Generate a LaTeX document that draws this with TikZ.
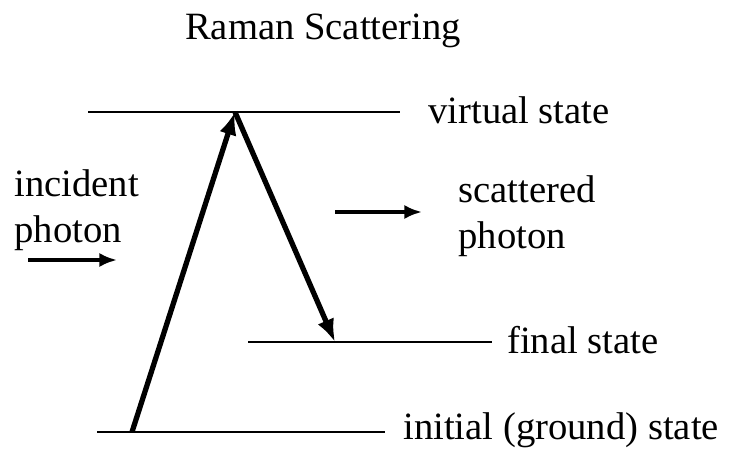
\documentclass[tikz,border=0pt]{standalone}
\usepackage{fontspec}
\setmainfont{Liberation Serif}
\usetikzlibrary{arrows.meta}

\begin{document}
\begin{tikzpicture}[x=0.02cm, y=0.02cm, font=\fontsize{22}{26}\selectfont]

  \useasboundingbox (0,0) rectangle (731,464);

  % Title
  \node[anchor=base] (title) at (323,424) {Raman Scattering};

  % Energy levels
  \coordinate (V1) at (88,352);
  \coordinate (V2) at (400,352);
  \coordinate (F1) at (248,122);
  \coordinate (F2) at (492,122);
  \coordinate (G1) at (97,32);
  \coordinate (G2) at (385,32);
  \draw[line width=1.1pt] (V1) -- (V2);
  \draw[line width=1.1pt] (F1) -- (F2);
  \draw[line width=1.1pt] (G1) -- (G2);

  % Transitions
  \coordinate (up0) at (132,32);
  \coordinate (top) at (235,352);
  \coordinate (down1) at (335,122);
  \draw[line width=3pt, -{Latex[length=13pt,width=10pt]}] (up0) -- (top);
  \draw[line width=3pt, -{Latex[length=13pt,width=10pt]}] (top) -- (down1);

  % Photons
  \coordinate (i1) at (28,204);
  \coordinate (i2) at (117,204);
  \coordinate (s1) at (335,252);
  \coordinate (s2) at (422,252);
  \draw[line width=2.2pt, -{Latex[length=10pt,width=8pt]}] (i1) -- (i2);
  \draw[line width=2.2pt, -{Latex[length=10pt,width=8pt]}] (s1) -- (s2);

  % Labels
  \node[right, inner sep=0pt] (vl) at (428,354) {virtual state};
  \node[right, inner sep=0pt] (fl) at (507,124) {final state};
  \node[right, inner sep=0pt] (gl) at (403,34) {initial (ground) state};
  \node[right, inner sep=0pt, align=left] (il) at (14,254) {incident\\photon};
  \node[right, inner sep=0pt, align=left] (sl) at (458,248) {scattered\\photon};

\end{tikzpicture}
\end{document}
